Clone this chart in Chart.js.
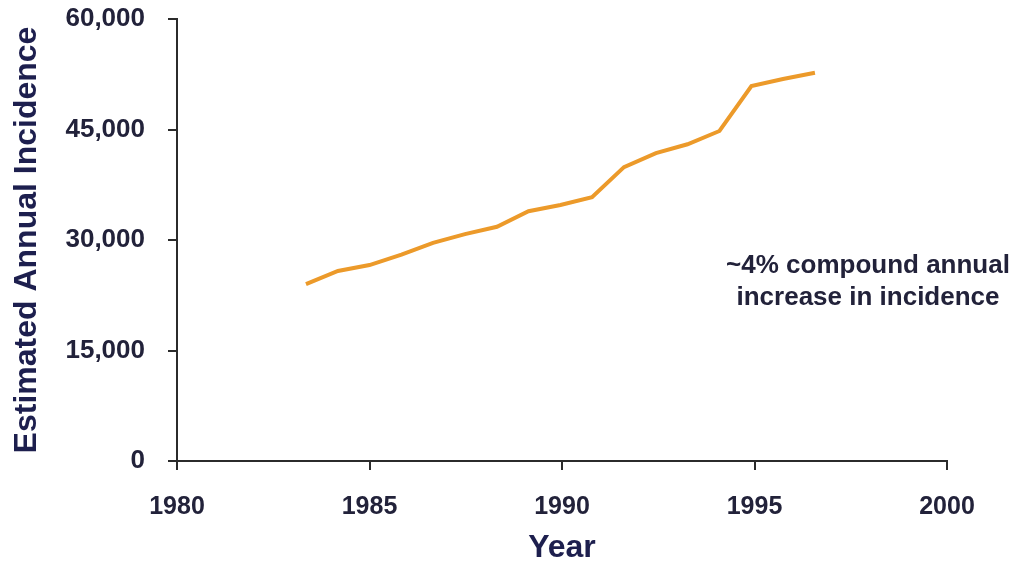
<!DOCTYPE html>
<html>
<head>
<meta charset="utf-8">
<script src="https://cdn.jsdelivr.net/npm/chart.js@4/dist/chart.umd.min.js"></script>
<style>
  html, body { margin: 0; padding: 0; background: #ffffff; }
  #wrap { width: 1018px; height: 564px; position: relative; }
</style>
</head>
<body>
<div id="wrap"><canvas id="chart" width="1018" height="564"></canvas></div>
<script>
// Estimated annual incidence, sampled along the trend line
const years = [1983.35, 1984.18, 1985.0, 1985.83, 1986.65, 1987.48, 1988.31, 1989.13,
               1989.96, 1990.78, 1991.61, 1992.44, 1993.26, 1994.09, 1994.92, 1995.74, 1996.57];
const incidence = [24000, 25800, 26600, 28000, 29600, 30800, 31800, 33900,
                   34750, 35800, 39900, 41800, 43000, 44800, 50900, 51850, 52700];
const yTicks = [0, 15000, 30000, 45000, 60000];
const xTicks = [1980, 1985, 1990, 1995, 2000];
const noteLines = ['~4% compound annual', 'increase in incidence'];

const INK = '#22223a';
const NAVY = '#1d1f4e';
const AXIS = '#2b2b2b';
const FONT = '"Liberation Sans", Arial, Helvetica, sans-serif';

const notePlugin = {
  id: 'note',
  afterDraw(chart) {
    const ctx = chart.ctx;
    ctx.save();
    ctx.fillStyle = INK;
    ctx.font = 'bold 26px ' + FONT;
    ctx.textAlign = 'center';
    ctx.textBaseline = 'middle';
    noteLines.forEach((t, i) => ctx.fillText(t, 868, 266 + i * 32));
    ctx.restore();
  }
};

new Chart(document.getElementById('chart'), {
  type: 'line',
  data: {
    datasets: [{
      data: years.map((x, i) => ({ x, y: incidence[i] })),
      borderColor: '#ec9a2a',
      borderWidth: 4,
      pointRadius: 0,
      tension: 0,
      fill: false
    }]
  },
  options: {
    responsive: false,
    animation: false,
    layout: { padding: { top: 19, right: 71, left: 0, bottom: 0 } },
    plugins: { legend: { display: false }, tooltip: { enabled: false } },
    scales: {
      x: {
        type: 'linear',
        min: 1980, max: 2000,
        afterBuildTicks(scale) { scale.ticks = xTicks.map(v => ({ value: v })); },
        afterFit(scale) { scale.height = 103; scale.paddingRight = 0; },
        border: { display: true, color: AXIS, width: 2 },
        grid: { display: true, drawOnChartArea: false, drawTicks: true, tickLength: 9, color: AXIS, lineWidth: 2 },
        ticks: {
          padding: 22,
          color: INK,
          font: { family: FONT, size: 25, weight: 'bold' },
          callback: v => String(v)
        },
        title: {
          display: true, text: 'Year', color: NAVY,
          font: { family: FONT, size: 32, weight: 'bold', lineHeight: 1 },
          padding: { top: 0, bottom: 0 }
        }
      },
      y: {
        type: 'linear',
        min: 0, max: 60000,
        afterBuildTicks(scale) { scale.ticks = yTicks.map(v => ({ value: v })); },
        afterFit(scale) { scale.width = 177; scale.paddingTop = 0; scale.paddingBottom = 0; },
        border: { display: true, color: AXIS, width: 2 },
        grid: { display: true, drawOnChartArea: false, drawTicks: true, tickLength: 9, color: AXIS, lineWidth: 2 },
        ticks: {
          padding: 23,
          color: INK,
          font: { family: FONT, size: 26, weight: 'bold' },
          callback: v => v.toLocaleString('en-US')
        },
        title: {
          display: true, text: 'Estimated Annual Incidence', color: NAVY,
          font: { family: FONT, size: 32, weight: 'bold', lineHeight: 1 },
          padding: { top: 11, bottom: 0 }
        }
      }
    }
  },
  plugins: [notePlugin]
});
</script>
</body>
</html>
